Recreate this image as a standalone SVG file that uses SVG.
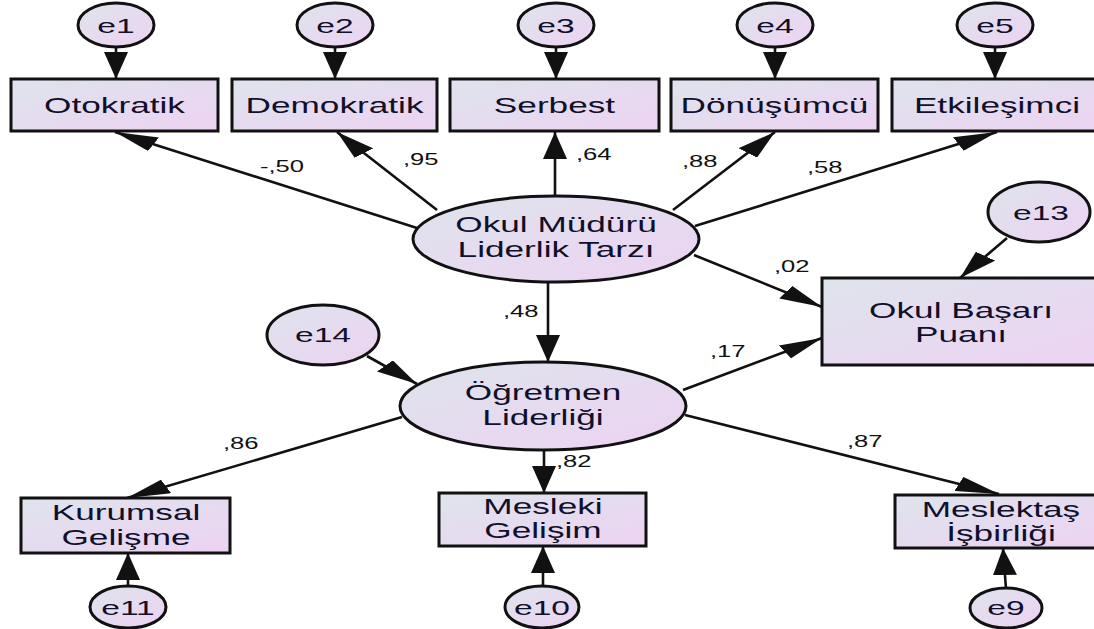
<svg xmlns="http://www.w3.org/2000/svg" width="1094" height="629" viewBox="0 0 1094 629">
  <defs>
    <linearGradient id="fill" x1="0" y1="0" x2="1" y2="1">
      <stop offset="0" stop-color="#dee4ec"/>
      <stop offset="1" stop-color="#edd2f3"/>
    </linearGradient>
    <!-- arrowhead drawn in the horizontally stretched connector space -->
    <marker id="arrow" viewBox="0 0 27 15" markerWidth="27" markerHeight="15" refX="27" refY="7.5" orient="auto" markerUnits="userSpaceOnUse">
      <path d="M0,0 L27,7.5 L0,15 z" fill="#111"/>
    </marker>
    <style>
      .n { fill: url(#fill); stroke: #111; stroke-width: 3; }
      .c { fill: none; stroke: #111; stroke-width: 2.6; vector-effect: non-scaling-stroke; marker-end: url(#arrow); }
      .t { font-family: "Liberation Sans", Arial, sans-serif; font-size: 22px; fill: #10102a; text-anchor: middle; }
      .e { font-family: "Liberation Sans", Arial, sans-serif; font-size: 21px; fill: #10102a; text-anchor: middle; }
      .w { font-family: "Liberation Sans", Arial, sans-serif; font-size: 16px; fill: #111; }
    </style>
  </defs>
  <rect width="1094" height="629" fill="#fff"/>

  <!-- connectors: coordinates are x/1.6 inside the stretched group -->
  <g id="connectors" transform="scale(1.6 1)">
    <path class="c" d="M72.5,47 L72.5,79"/>
    <path class="c" d="M209.375,47 L209.375,79"/>
    <path class="c" d="M347.5,47 L347.5,79"/>
    <path class="c" d="M484.375,47 L484.375,79"/>
    <path class="c" d="M621.875,47 L621.875,79"/>
    <path class="c" d="M260.625,228 L71.875,132"/>
    <path class="c" d="M273.125,210 L210.625,132"/>
    <path class="c" d="M346.875,196 L346.875,132"/>
    <path class="c" d="M420.625,210 L484.375,132"/>
    <path class="c" d="M434.375,226 L623.125,132"/>
    <path class="c" d="M433.75,255 L513.75,307"/>
    <path class="c" d="M342.5,282 L342.5,362"/>
    <path class="c" d="M426.875,390 L513.75,338"/>
    <path class="c" d="M229.375,356 L260.625,384"/>
    <path class="c" d="M629.375,238 L600,278"/>
    <path class="c" d="M251.25,417 L79.375,498"/>
    <path class="c" d="M340,450 L340,493"/>
    <path class="c" d="M428.125,415 L624.375,494"/>
    <path class="c" d="M80,586 L80,553"/>
    <path class="c" d="M339.375,586 L339.375,546"/>
    <path class="c" d="M628.75,589 L626.875,548"/>
  </g>

  <!-- path coefficients -->
  <g id="weights" class="w">
    <text transform="translate(260 172) scale(1.6 1)">-,50</text>
    <text transform="translate(403 165) scale(1.6 1)">,95</text>
    <text transform="translate(576 160) scale(1.6 1)">,64</text>
    <text transform="translate(682 167) scale(1.6 1)">,88</text>
    <text transform="translate(807 173) scale(1.6 1)">,58</text>
    <text transform="translate(774 272) scale(1.6 1)">,02</text>
    <text transform="translate(503 317) scale(1.6 1)">,48</text>
    <text transform="translate(710 357) scale(1.6 1)">,17</text>
    <text transform="translate(223 449) scale(1.6 1)">,86</text>
    <text transform="translate(556 467) scale(1.6 1)">,82</text>
    <text transform="translate(847 447) scale(1.6 1)">,87</text>
  </g>

  <!-- error terms, top row -->
  <g id="e1"><ellipse class="n" cx="116" cy="25" rx="38" ry="22"/><text class="e" transform="translate(116 33) scale(1.6 1)">e1</text></g>
  <g id="e2"><ellipse class="n" cx="335" cy="25" rx="38" ry="22"/><text class="e" transform="translate(335 33) scale(1.6 1)">e2</text></g>
  <g id="e3"><ellipse class="n" cx="556" cy="25" rx="38" ry="22"/><text class="e" transform="translate(556 33) scale(1.6 1)">e3</text></g>
  <g id="e4"><ellipse class="n" cx="775" cy="25" rx="38" ry="22"/><text class="e" transform="translate(775 33) scale(1.6 1)">e4</text></g>
  <g id="e5"><ellipse class="n" cx="995" cy="25" rx="38" ry="22"/><text class="e" transform="translate(995 33) scale(1.6 1)">e5</text></g>

  <!-- leadership style indicators -->
  <g id="otokratik"><rect class="n" x="11" y="79" width="207" height="52"/><text class="t" transform="translate(114.5 113) scale(1.6 1)">Otokratik</text></g>
  <g id="demokratik"><rect class="n" x="232" y="79" width="205" height="52"/><text class="t" transform="translate(334.5 113) scale(1.6 1)">Demokratik</text></g>
  <g id="serbest"><rect class="n" x="450" y="79" width="209" height="52"/><text class="t" transform="translate(554.5 113) scale(1.6 1)">Serbest</text></g>
  <g id="donusumcu"><rect class="n" x="671" y="79" width="207" height="52"/><text class="t" transform="translate(774.5 113) scale(1.6 1)">Dönüşümcü</text></g>
  <g id="etkilesimci"><rect class="n" x="892" y="79" width="212" height="52"/><text class="t" transform="translate(997 113) scale(1.6 1)">Etkileşimci</text></g>

  <!-- latent variables -->
  <g id="mudur">
    <ellipse class="n" cx="556" cy="239" rx="143" ry="43"/>
    <text class="t" transform="translate(556 232) scale(1.6 1)"><tspan x="0" y="0">Okul Müdürü</tspan><tspan x="0" y="25">Liderlik Tarzı</tspan></text>
  </g>
  <g id="ogretmen">
    <ellipse class="n" cx="543" cy="406" rx="143" ry="44"/>
    <text class="t" transform="translate(543 400) scale(1.6 1)"><tspan x="0" y="0">Öğretmen</tspan><tspan x="0" y="25">Liderliği</tspan></text>
  </g>

  <g id="e14"><ellipse class="n" cx="323" cy="335" rx="56" ry="30"/><text class="e" transform="translate(323 342) scale(1.6 1)">e14</text></g>
  <g id="e13"><ellipse class="n" cx="1039" cy="212" rx="51" ry="30"/><text class="e" transform="translate(1041 220) scale(1.6 1)">e13</text></g>

  <!-- outcome -->
  <g id="basari">
    <rect class="n" x="822" y="278" width="280" height="87"/>
    <text class="t" transform="translate(961 318) scale(1.6 1)"><tspan x="0" y="0">Okul Başarı</tspan><tspan x="0" y="24">Puanı</tspan></text>
  </g>

  <!-- teacher leadership indicators -->
  <g id="kurumsal">
    <rect class="n" x="21" y="498" width="209" height="55"/>
    <text class="t" transform="translate(126 520) scale(1.6 1)"><tspan x="0" y="0">Kurumsal</tspan><tspan x="0" y="25">Gelişme</tspan></text>
  </g>
  <g id="mesleki">
    <rect class="n" x="439" y="493" width="207" height="53"/>
    <text class="t" transform="translate(543 514) scale(1.6 1)"><tspan x="0" y="0">Mesleki</tspan><tspan x="0" y="24">Gelişim</tspan></text>
  </g>
  <g id="meslektas">
    <rect class="n" x="895" y="495" width="210" height="53"/>
    <text class="t" transform="translate(1001 517) scale(1.6 1)"><tspan x="0" y="0">Meslektaş</tspan><tspan x="0" y="24">İşbirliği</tspan></text>
  </g>

  <!-- error terms, bottom row -->
  <g id="e11"><ellipse class="n" cx="128" cy="607" rx="38" ry="21"/><text class="e" transform="translate(128 615) scale(1.6 1)">e11</text></g>
  <g id="e10"><ellipse class="n" cx="542" cy="607" rx="37" ry="21"/><text class="e" transform="translate(542 615) scale(1.6 1)">e10</text></g>
  <g id="e9"><ellipse class="n" cx="1006" cy="608" rx="36" ry="20"/><text class="e" transform="translate(1006 615) scale(1.6 1)">e9</text></g>
</svg>
